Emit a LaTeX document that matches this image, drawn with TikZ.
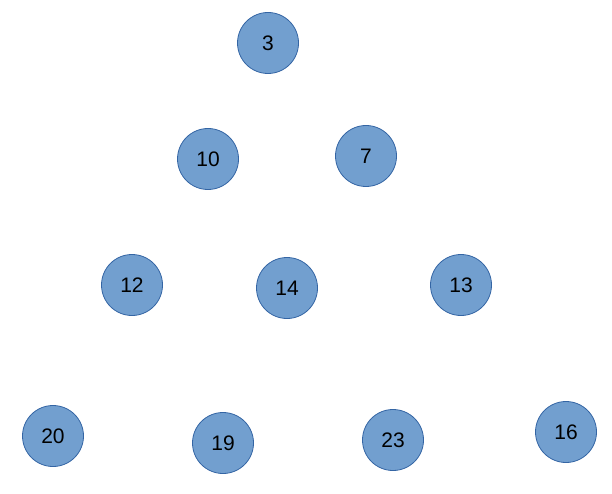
\documentclass[tikz,border=0pt]{standalone}
\usepackage{fontspec}
\setmainfont{Liberation Sans}
\definecolor{nodefill}{HTML}{729FCF}
\definecolor{nodeborder}{HTML}{3465A4}
\begin{document}
\begin{tikzpicture}[x=1pt,y=-1pt,
  vnode/.style={circle,fill=nodefill,draw=nodeborder,line width=0.8pt,minimum size=61pt,inner sep=0pt,font=\fontsize{21}{25}\selectfont}]
\useasboundingbox (0,0) rectangle (612,494);
\node[vnode] (n3) at (268,43) {3};
\node[vnode] (n10) at (208,159) {10};
\node[vnode] (n7) at (366,156) {7};
\node[vnode] (n12) at (132,285) {12};
\node[vnode] (n14) at (287,288) {14};
\node[vnode] (n13) at (461,285) {13};
\node[vnode] (n20) at (53,436) {20};
\node[vnode] (n19) at (223,443) {19};
\node[vnode] (n23) at (393,440) {23};
\node[vnode] (n16) at (566,432) {16};
\end{tikzpicture}
\end{document}
